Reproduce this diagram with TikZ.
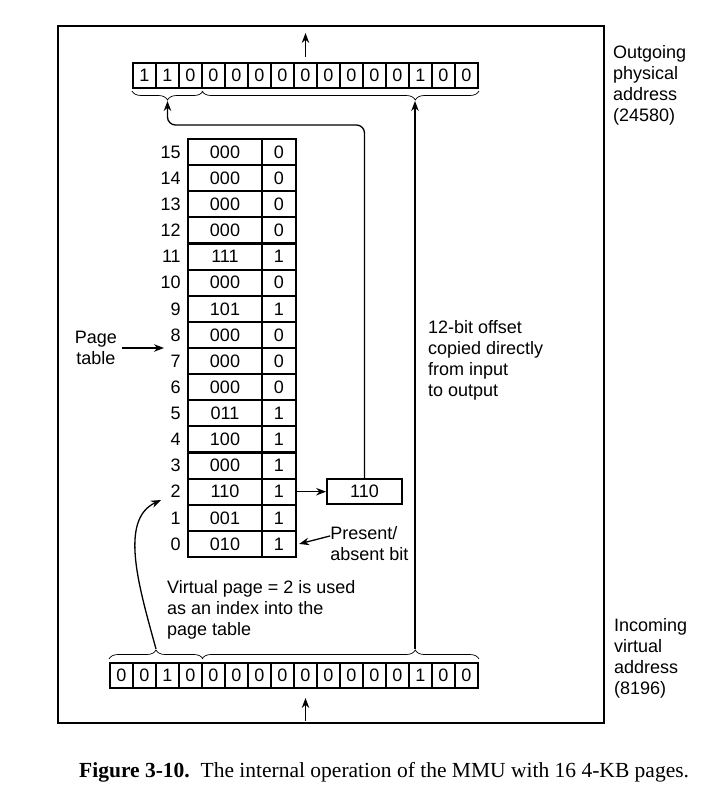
\documentclass[tikz,border=0pt]{standalone}
\usepackage{fontspec}
\setmainfont{Liberation Serif}
\setsansfont{Liberation Sans}
\usetikzlibrary{arrows.meta,positioning,decorations.pathreplacing}

\begin{document}
\begin{tikzpicture}[
    x=1pt,y=-1pt,
    every node/.style={font=\sffamily\fontsize{18}{21}\selectfont},
    bit/.style={draw,line width=2pt,minimum width=23pt,minimum height=25pt,inner sep=0pt},
    cell/.style={draw,line width=2.2pt,minimum height=26.125pt,inner sep=0pt},
    lbl/.style={align=left,inner sep=0pt},
    arr/.style={-{Stealth[length=10pt,width=7.5pt]},line width=1.3pt},
    brc/.style={decorate,decoration={brace,amplitude=9pt},line width=0.7pt}
]
\useasboundingbox (0,0) rectangle (708,807);
\draw[line width=1.6pt] (58,26) rectangle (604,723);

% outgoing physical address
\foreach \b [count=\k from 0] in {1,1,0,0,0,0,0,0,0,0,0,0,1,0,0}
  \node[bit] (out\k) at ({144.5+23*\k},75.5) {\b};
% incoming virtual address
\foreach \b [count=\k from 0] in {0,0,1,0,0,0,0,0,0,0,0,0,0,1,0,0}
  \node[bit] (in\k) at ({121.5+23*\k},675.5) {\b};

% page table, entry 0 at the bottom
\foreach \fr/\pr [count=\idx from 0] in {010/1,001/1,110/1,000/1,100/1,011/1,000/0,000/0,000/0,101/1,000/0,111/1,000/0,000/0,000/0,000/0} {
  \node[cell,minimum width=74pt] (pf\idx) at (225,{139+(15.5-\idx)*26.125}) {\fr};
  \node[cell,minimum width=34pt] (pp\idx) at (279,{139+(15.5-\idx)*26.125}) {\pr};
  \node[lbl,left=6pt of pf\idx] (pn\idx) {\idx};
}
\node[cell,minimum width=75pt,minimum height=25pt,line width=1.8pt,right=29pt of pp2] (frame) {110};

\coordinate (ptip) at (167.5,101);
\coordinate (otip) at (415,101);
\coordinate (vtip) at (156,649);
\coordinate (itip) at (415,649);
\coordinate (pout) at (305.5,33);
\coordinate (vin) at (305.5,721);
\coordinate (idx) at (161,500);
\coordinate (ptend) at (164,348);

% braces
\draw[brc,decoration={mirror,aspect=0.5}] ([yshift=-2pt]out0.south west) -- ([yshift=-2pt]out2.south east);
\draw[brc,decoration={mirror,aspect=0.77}] ([xshift=1pt,yshift=-2pt]out3.south west) -- ([yshift=-2pt]out14.south east);
\draw[brc,decoration={aspect=0.5}] ([yshift=3pt]in0.north west) -- ([yshift=3pt]in3.north east);
\draw[brc,decoration={aspect=0.77}] ([xshift=1pt,yshift=3pt]in4.north west) -- ([yshift=3pt]in15.north east);

\node[lbl,align=center,left=47pt of ptend] (ptl) {Page\\table};
\node[lbl,right=33pt of pp0] (pa) {Present/\\absent bit};
\node[lbl,anchor=north west] (outlbl) at (613,45) {Outgoing\\physical\\address\\(24580)};
\node[lbl,anchor=north west] (inlbl) at (614,618) {Incoming\\virtual\\address\\(8196)};
\node[lbl,anchor=north west] (offlbl) at (428,320) {12-bit offset\\copied directly\\from input\\to output};
\node[lbl,anchor=north west] (vplbl) at (167,580) {Virtual page = 2 is used\\as an index into the\\page table};

\draw[arr] ([yshift=5pt]out7.north) -- (pout);
\draw[arr] (vin) -- ([yshift=-9pt]in8.south);
\draw[arr] (itip) -- (otip);
\draw[arr] (pp2.east) -- (frame.west);
\draw[arr,rounded corners=8pt] (frame.north) |- ([yshift=-24pt]ptip) -- (ptip);
\draw[arr] (vtip) .. controls (140,590) and (118,520) .. (idx);
\draw[arr] ([xshift=5pt]ptl.east) -- (ptend);
\draw[arr] ([yshift=8pt]pa.west) -- ([xshift=2pt]pp0.east);

\node[anchor=base west,inner sep=0pt,font=\rmfamily\fontsize{21.5}{25}\selectfont] (cap) at (79,777) {\textbf{Figure 3-10.}\enspace The internal operation of the MMU with 16 4-KB pages.};
\end{tikzpicture}
\end{document}
